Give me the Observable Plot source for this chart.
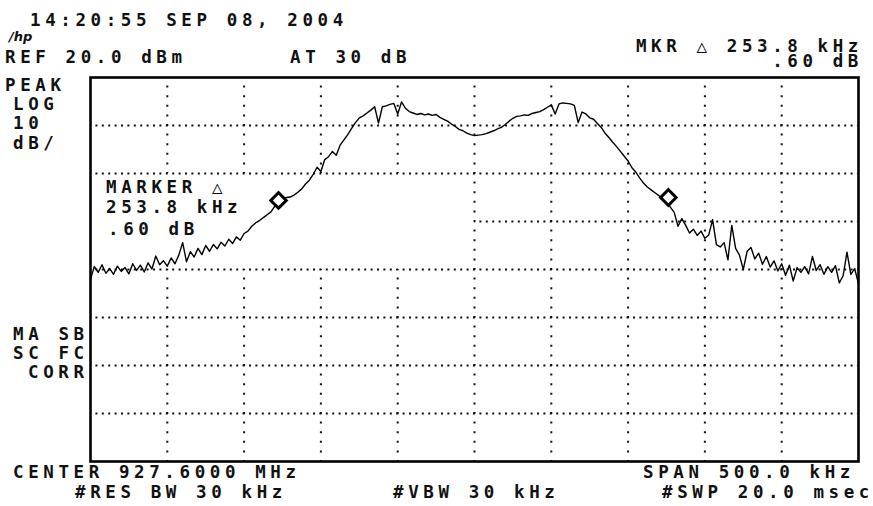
<!DOCTYPE html>
<html>
<head>
<meta charset="utf-8">
<script src="https://cdn.jsdelivr.net/npm/d3@7"></script>
<script src="https://cdn.jsdelivr.net/npm/@observablehq/plot@0.6"></script>
<style>
  html, body { margin: 0; padding: 0; background: #fff; }
  #chart svg { display: block; }
  .lbl { font-family: "DejaVu Sans Mono", monospace; font-size: 17.5px; font-weight: bold; letter-spacing: 4.6px; fill: #111; }
</style>
</head>
<body>
<div id="chart"></div>
<script>
// ---- data ----
const refLevel = 20;          // dBm, top of screen
const dbPerDiv = 10;
const spanKHz = 500;          // span, centred on 927.6 MHz
const sweepStartKHz = -250;   // offset from centre
const sweepStepKHz = 2.5;
const traceLevels = [
  -22.0,-19.4,-20.6,-19.0,-20.8,-19.8,-21.0,-19.3,-20.4,-19.6,
  -20.9,-18.8,-20.2,-19.1,-20.5,-18.6,-19.9,-17.2,-19.0,-18.2,
  -19.3,-17.6,-18.8,-17.0,-14.4,-18.4,-16.3,-17.4,-15.6,-16.9,
  -15.0,-16.2,-14.8,-15.7,-14.3,-15.1,-13.7,-14.6,-13.2,-13.9,
  -12.5,-12.0,-11.0,-10.3,-9.8,-9.2,-8.6,-8.0,-6.8,-5.6,
  -5.3,-5.0,-4.9,-4.5,-3.9,-3.2,-2.2,-1.4,-0.2,1.3,
  0.4,2.9,3.5,4.6,3.8,5.9,7.0,8.1,9.4,10.6,
  11.6,12.0,12.6,13.2,13.9,10.5,13.9,14.1,14.4,14.6,
  12.4,14.9,13.6,12.9,12.6,12.3,12.5,12.2,12.4,12.1,
  12.3,11.7,11.3,10.9,10.3,9.8,9.2,8.9,8.4,8.1,
  7.9,8.0,8.1,8.3,8.6,8.9,9.3,9.6,10.2,10.9,
  11.5,11.9,12.0,12.2,12.1,12.5,12.7,12.9,13.3,13.8,
  14.3,12.4,14.5,14.7,14.6,14.5,14.2,10.6,12.8,12.4,
  11.6,11.3,10.4,9.6,8.4,7.5,6.5,5.6,4.6,3.6,
  2.6,1.2,0.3,-0.9,-2.0,-2.8,-3.4,-4.0,-4.6,-5.1,
  -5.6,-7.0,-8.1,-11.0,-9.4,-10.8,-12.4,-11.6,-12.9,-12.0,
  -13.5,-12.8,-9.6,-14.8,-15.3,-14.4,-18.0,-10.8,-15.6,-17.0,
  -20.0,-16.2,-15.4,-17.8,-16.6,-18.9,-17.3,-19.5,-18.2,-20.3,
  -18.8,-21.2,-19.1,-22.4,-19.6,-20.6,-19.4,-20.9,-17.3,-20.2,
  -19.0,-21.0,-19.4,-20.6,-19.2,-22.8,-21.3,-16.4,-21.0,-19.8,
  -23.0
];
const markerFreqs = [-127.6, 126.2];   // kHz offset
const markerLevels = [-5.6, -5.0];     // dBm  (delta .60 dB)
const gridFreqs = [-200, -150, -100, -50, 0, 50, 100, 150, 200];
const gridLevels = [10, 0, -10, -20, -30, -40, -50];

const labels = [
  {t: "14:20:55 SEP 08, 2004", x: 30, y: 26, a: "start"},
  {t: "REF 20.0 dBm", x: 5, y: 63, a: "start"},
  {t: "AT 30 dB", x: 290, y: 63, a: "start"},
  {t: "MKR \u25B3 253.8 kHz", x: 863, y: 52, a: "end"},
  {t: ".60 dB", x: 863, y: 67, a: "end"},
  {t: "PEAK", x: 5, y: 91, a: "start"},
  {t: "LOG", x: 13, y: 110, a: "start"},
  {t: "10", x: 13, y: 129, a: "start"},
  {t: "dB/", x: 13, y: 149, a: "start"},
  {t: "MARKER \u25B3", x: 106, y: 193, a: "start"},
  {t: "253.8 kHz", x: 106, y: 213, a: "start"},
  {t: ".60 dB", x: 108, y: 235, a: "start"},
  {t: "MA SB", x: 13, y: 340, a: "start"},
  {t: "SC FC", x: 13, y: 359, a: "start"},
  {t: "CORR", x: 28, y: 378, a: "start"},
  {t: "CENTER 927.6000 MHz", x: 13, y: 478, a: "start"},
  {t: "#RES BW 30 kHz", x: 75, y: 498, a: "start"},
  {t: "#VBW 30 kHz", x: 393, y: 498, a: "start"},
  {t: "SPAN 500.0 kHz", x: 643, y: 478, a: "start"},
  {t: "#SWP 20.0 msec", x: 874, y: 498, a: "end"}
];

// ---- build tables ----
const trace = traceLevels.map((db, i) => ({f: sweepStartKHz + i * sweepStepKHz, db}));
const markers = markerFreqs.map((f, i) => ({f, db: markerLevels[i]}));
const bottom = refLevel - 8 * dbPerDiv;
// annotation area blanks the graticule on the left half between 0 and -20 dBm
const vSegs = [];
gridFreqs.forEach(f => {
  if (f < 0) {
    vSegs.push({x: f, y1: bottom, y2: -20});
    vSegs.push({x: f, y1: 0, y2: refLevel});
  } else {
    vSegs.push({x: f, y1: bottom, y2: refLevel});
  }
});
const hSegs = gridLevels.map(l => l === -10
  ? {y: l, x1: 0, x2: spanKHz / 2}
  : {y: l, x1: -spanKHz / 2, x2: spanKHz / 2});

const plot = Plot.plot({
  width: 873,
  height: 506,
  marginLeft: 90,
  marginRight: 15,
  marginTop: 77,
  marginBottom: 45,
  style: {background: "white"},
  x: {domain: [-spanKHz / 2, spanKHz / 2], axis: null},
  y: {domain: [bottom, refLevel], axis: null},
  marks: [
    Plot.ruleX(vSegs, {x: "x", y1: "y1", y2: "y2", stroke: "#111", strokeWidth: 2, strokeDasharray: "2,7.6", strokeDashoffset: 1}),
    Plot.ruleY(hSegs, {y: "y", x1: "x1", x2: "x2", stroke: "#111", strokeWidth: 2, strokeDasharray: "2,4.4", strokeDashoffset: 1}),
    Plot.line(trace, {x: "f", y: "db", stroke: "#000", strokeWidth: 1.4}),
    Plot.dot(markers, {x: "f", y: "db", symbol: "square", rotate: 45, r: 6.2, stroke: "#000", strokeWidth: 3, fill: "white"}),
    Plot.frame({stroke: "#000", strokeWidth: 2.6})
  ]
});
document.getElementById("chart").appendChild(plot);

const svg = d3.select(plot);
svg.append("g").selectAll("text").data(labels).join("text")
  .attr("class", "lbl")
  .attr("text-anchor", d => d.a)
  .attr("x", d => d.x).attr("y", d => d.y)
  .text(d => d.t);
svg.append("text")
  .attr("text-anchor", "start")
  .attr("x", 9).attr("y", 41)
  .style("font-family", "DejaVu Sans").style("font-size", "13px")
  .style("font-style", "italic").style("font-weight", "bold").style("fill", "#111")
  .text("/hp");
</script>
</body>
</html>
